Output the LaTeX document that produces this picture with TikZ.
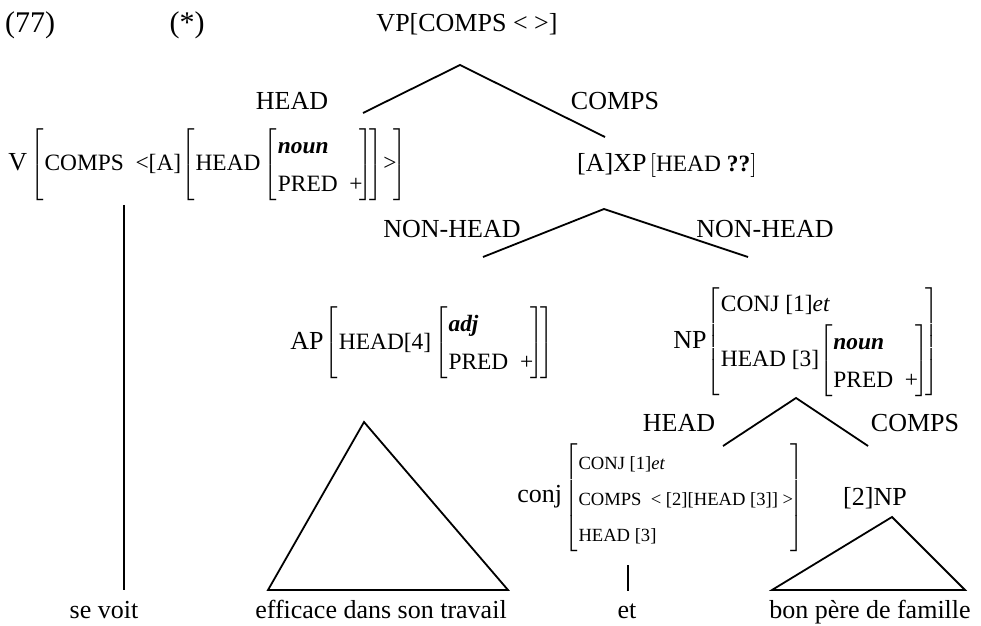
\documentclass[tikz,border=0pt]{standalone}
\usepackage{fontspec}
\setmainfont{Liberation Serif}
\usepackage{tikz}
\usetikzlibrary{positioning}
\newcommand{\attrmat}[1]{{\fontsize{11.7}{19}\selectfont$\left[\begin{tabular}{@{\hspace{0.5pt}}l@{\hspace{-1.5pt}}}#1\end{tabular}\right]$}}
\newcommand{\smallmat}[1]{{\fontsize{9.3}{18}\selectfont$\left[\begin{tabular}{@{\hspace{0.5pt}}l@{\hspace{-1.5pt}}}#1\end{tabular}\right]$}}
\tikzset{
  lbl/.style={font=\fontsize{13}{19}\selectfont, inner sep=0pt},
  exlbl/.style={font=\fontsize{15}{18}\selectfont, inner sep=0pt},
  avm/.style={lbl, anchor=west},
  word/.style={lbl, anchor=base},
  branch/.style={line width=0.9pt}
}

\begin{document}
\begin{tikzpicture}[x=0.5pt, y=-0.5pt]
  \useasboundingbox (0,0) rectangle (981,626);

  \node[exlbl] (exnum) at (30,25) {(77)};
  \node[exlbl] (star) at (187,25) {(*)};
  \node[lbl] (vp) at (467,24) {VP[COMPS < >]};
  \node[lbl] (headA) at (292,101) {HEAD};
  \node[lbl] (compsA) at (615,101) {COMPS};

  \node[avm] (verb) at (8,165)
        {V\hspace{1.5pt}\attrmat{COMPS\enspace<[A]\attrmat{HEAD\hspace{1.5pt}\attrmat{\textbf{\textit{noun}}\\PRED\enspace+}}>\hspace{0.5pt}}};
  \node[lbl] (xp) at (667,165)
        {[A]XP\hspace{1.5pt}$\left[\rule[-3pt]{0pt}{11.5pt}\mbox{\fontsize{11.7}{19}\selectfont HEAD \textbf{??}}\right]$};

  \node[lbl] (nhL) at (452,229) {NON-HEAD};
  \node[lbl] (nhR) at (765,229) {NON-HEAD};

  \node[avm] (adjp) at (290,343)
        {AP\hspace{0.5pt}\attrmat{HEAD[4]\hspace{1.5pt}\attrmat{\textbf{\textit{adj}}\\PRED\enspace+}}};
  \node[avm] (nomp) at (673,342)
        {NP\attrmat{CONJ [1]\textit{et}\\HEAD [3]\attrmat{\textbf{\textit{noun}}\\PRED\enspace+}}};

  \node[lbl] (headB) at (679,423) {HEAD};
  \node[lbl] (compsB) at (915,423) {COMPS};
  \node[avm] (conj) at (517,498)
        {conj\hspace{1pt}\smallmat{CONJ [1]\textit{et}\\COMPS~~< [2][HEAD [3]] >\hspace{5pt}\\HEAD [3]}};
  \node[lbl] (np2) at (875,498) {[2]NP};

  \node[word] (sevoit) at (104,618) {se voit};
  \node[word] (effic) at (381,618) {efficace dans son travail};
  \node[word] (et) at (627,618) {et};
  \node[word] (bonpere) at (870,618) {bon père de famille};

  \coordinate (vpTop) at (460,65);
  \coordinate (vpL) at (363,113);
  \coordinate (vpR) at (605,137);
  \coordinate (xpTop) at (604,209);
  \coordinate (xpL) at (483,257);
  \coordinate (xpR) at (748,257);
  \coordinate (npTop) at (796,398);
  \coordinate (npL) at (723,446);
  \coordinate (npR) at (868,446);
  \coordinate (apTop) at (364,422);
  \coordinate (apL) at (268,590);
  \coordinate (apR) at (508,590);
  \coordinate (npTwoTop) at (892,517);
  \coordinate (npTwoL) at (772,590);
  \coordinate (npTwoR) at (965,590);
  \coordinate (verbTop) at (124,205);
  \coordinate (verbBot) at (124,590);
  \coordinate (etTop) at (628,565);
  \coordinate (etBot) at (628,591);

  \draw[branch] (vpL) -- (vpTop) -- (vpR);
  \draw[branch] (xpL) -- (xpTop) -- (xpR);
  \draw[branch] (npL) -- (npTop) -- (npR);
  \draw[branch] (apL) -- (apTop) -- (apR) -- cycle;
  \draw[branch] (npTwoL) -- (npTwoTop) -- (npTwoR) -- cycle;
  \draw[branch] (verbTop) -- (verbBot);
  \draw[branch] (etTop) -- (etBot);
\end{tikzpicture}
\end{document}
